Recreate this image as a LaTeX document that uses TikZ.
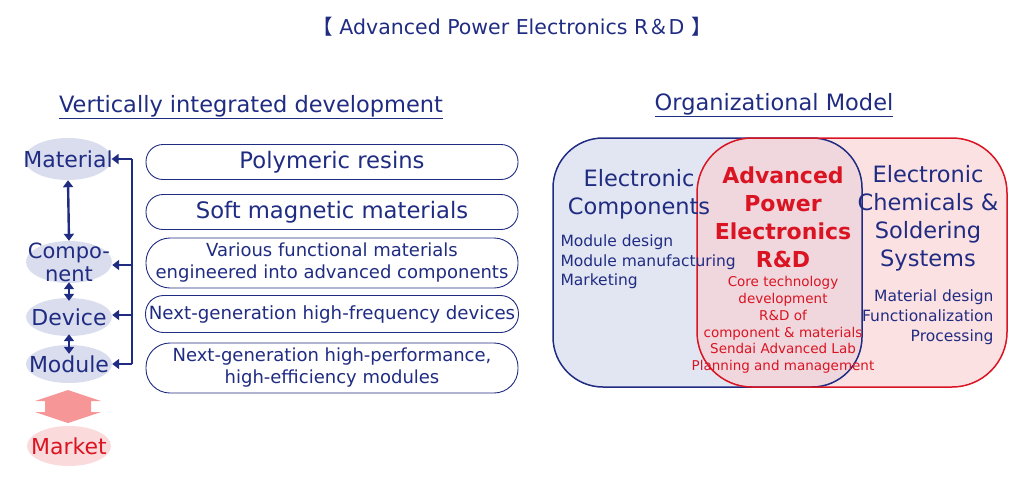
\documentclass[tikz,border=0pt]{standalone}
\usepackage{fontspec}
\setmainfont{DejaVu Sans}
\newfontfamily\cjkfont{Noto Sans CJK JP}
\usepackage{tikz}
\usetikzlibrary{shapes.geometric,arrows.meta}
\definecolor{navy}{RGB}{32,44,130}
\definecolor{darkred}{RGB}{218,20,34}
\definecolor{lavender}{RGB}{217,221,238}
\definecolor{bluefill}{RGB}{226,230,242}
\definecolor{redfill}{RGB}{250,205,208}
\definecolor{pinkfill}{RGB}{251,218,220}
\definecolor{salmon}{RGB}{246,150,150}
\newcommand{\fs}[1]{\fontsize{#1}{#1}\selectfont}

\begin{document}
\begin{tikzpicture}[x=1pt,y=-1pt,
  lvl/.style={ellipse,fill=lavender,inner xsep=-14pt,inner ysep=-4pt,minimum width=86pt,minimum height=42pt,text=navy,font=\fs{22}},
  item/.style={draw=navy,fill=white,line width=0.9pt,minimum width=372pt,text=navy,align=center},
  link/.style={navy,line width=2.4pt,{Triangle[length=7pt,width=10pt]}-{Triangle[length=7pt,width=10pt]}},
  feed/.style={navy,line width=2.4pt,-{Triangle[length=7pt,width=10pt]}}]
\useasboundingbox (0,0) rectangle (1024,480);

\node[text=navy,font=\fs{20.5}] (title) at (512,27) {{\cjkfont 【} Advanced Power Electronics R{\cjkfont ＆}D {\cjkfont 】}};
\node[text=navy,font=\fs{22.5}] (vtitle) at (251,107) {\underline{Vertically integrated development}};
\node[text=navy,font=\fs{22.5}] (otitle) at (774,105) {\underline{Organizational Model}};

% levels
\node[lvl] (mat) at (68,159) {Material};
\node[lvl,align=center,inner ysep=-9pt,font={\fontsize{21}{23}\selectfont}] (comp) at (69,262) {Compo-\\nent};
\node[lvl,minimum height=38pt] (dev) at (69,317) {Device};
\node[lvl,minimum height=38pt] (mod) at (69,364) {Module};
\node[lvl,fill=pinkfill,minimum width=84pt,minimum height=40pt,text=darkred] (mkt) at (69,446) {Market};

\draw[link] (mat.south) -- (comp.north);
\draw[link,shorten <=-1pt,shorten >=-3pt] (comp.south) -- (dev.north);
\draw[link,shorten <=-2pt,shorten >=-9pt] (dev.south) -- (mod.north);

% double arrow to market
\fill[salmon] (35,401) -- (68,390) -- (101,401) -- (91,401) -- (91,412) -- (101,412)
  -- (68,423) -- (35,412) -- (45,412) -- (45,401) -- cycle;

% feedback bracket
\coordinate (top) at (132,159);
\coordinate (bot) at (132,364);
\draw[navy,line width=2.4pt] (top) -- (bot);
\draw[feed] (top) -- (mat.east);
\draw[feed] (132,265) -- (comp.east |- 0,265);
\draw[feed] (132,315) -- (dev.east |- 0,315);
\draw[feed] (bot) -- (mod.east);

% items
\node[item,minimum height=35pt,rounded corners=17pt,font=\fs{22.7}] (b1) at (332,162) {Polymeric resins};
\node[item,minimum height=35pt,rounded corners=17pt,font=\fs{22.7}] (b2) at (332,212) {Soft magnetic materials};
\node[item,minimum height=50pt,rounded corners=24pt,font={\fontsize{18}{22}\selectfont}] (b3) at (332,263) {Various functional materials\\engineered into advanced components};
\node[item,minimum height=37pt,rounded corners=18pt,font=\fs{18.2}] (b4) at (332,314) {Next-generation high-frequency devices};
\node[item,minimum height=50pt,rounded corners=24pt,font={\fontsize{18}{22}\selectfont}] (b5) at (332,368) {Next-generation high-performance,\\high-efficiency modules};

% organizational model
\fill[bluefill,rounded corners=50pt] (553,138) rectangle (862,387);
\fill[redfill,opacity=0.6,rounded corners=55pt] (697,138) rectangle (1007,387);
\draw[navy,line width=1.5pt,rounded corners=50pt] (553,138) rectangle (862,387);
\draw[darkred,line width=1.5pt,rounded corners=55pt] (697,138) rectangle (1007,387);

\node[text=navy,align=center,font={\fontsize{22.5}{28}\selectfont}] (ec) at (639,194) {Electronic\\Components};
\node[text=navy,align=left,anchor=west,font={\fontsize{15.5}{19.5}\selectfont}] (ecl) at (557,262) {Module design\\Module manufacturing\\Marketing};
\node[text=darkred,align=center,font={\fontsize{22}{28}\selectfont\bfseries}] (rd) at (783,217) {Advanced\\Power\\Electronics\\R\&D};
\node[text=darkred,align=center,font={\fontsize{13.5}{16.8}\selectfont}] (rdl) at (783,325) {Core technology\\development\\R\&D of\\component \& materials\\Sendai Advanced Lab\\Planning and management};
\node[text=navy,align=center,font={\fontsize{22.5}{28}\selectfont}] (cs) at (928,218) {Electronic\\Chemicals \&\\Soldering\\Systems};
\node[text=navy,align=right,anchor=east,font={\fontsize{15.5}{20}\selectfont}] (csl) at (997,317) {Material design\\Functionalization\\Processing};
\end{tikzpicture}
\end{document}
